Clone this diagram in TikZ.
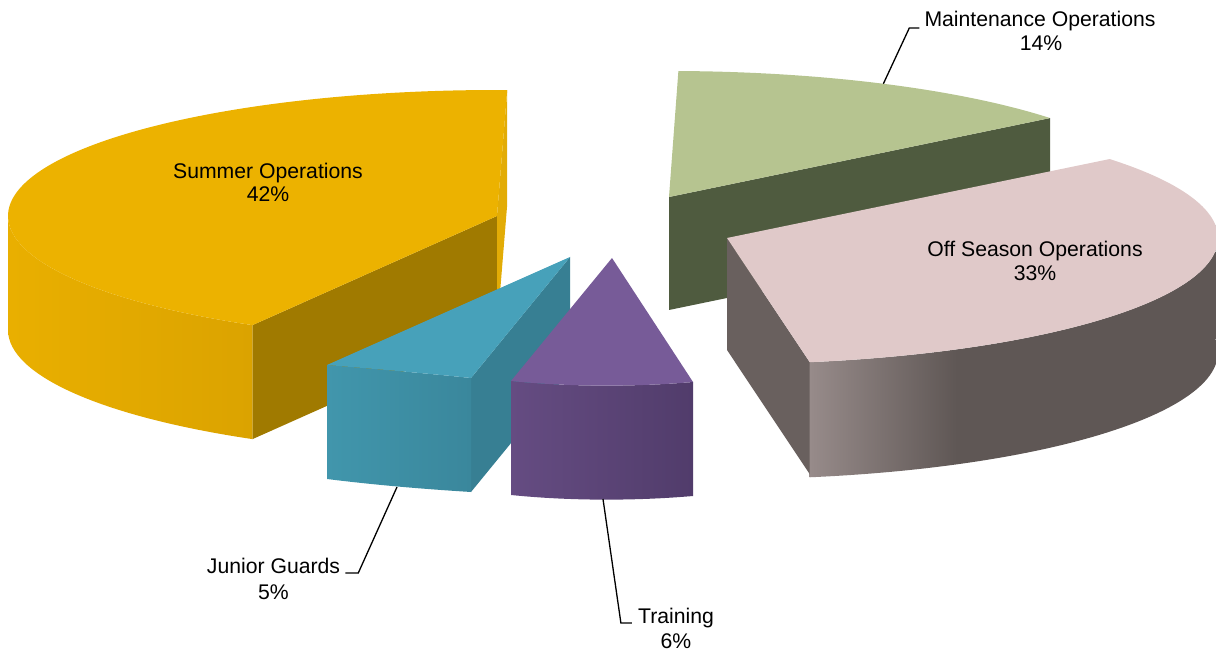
\documentclass[tikz,border=0pt]{standalone}
\usepackage{fontspec}
\setmainfont{Liberation Sans}
\usetikzlibrary{calc}

% slice colours
\definecolor{goldtop}{HTML}{ECB200}
\definecolor{golddark}{HTML}{A07A00}
\definecolor{goldsliver}{HTML}{E2AC06}
\definecolor{goldsideL}{HTML}{E9AF00}
\definecolor{goldsideR}{HTML}{DBA300}
\definecolor{greentop}{HTML}{B6C490}
\definecolor{greendark}{HTML}{4F5B3F}
\definecolor{pinktop}{HTML}{E0C9C9}
\definecolor{pinkcut}{HTML}{69605E}
\definecolor{pinksideL}{HTML}{978B8A}
\definecolor{pinksideD}{HTML}{5F5755}
\definecolor{bluetop}{HTML}{47A1BA}
\definecolor{bluesideL}{HTML}{4196AC}
\definecolor{bluesideR}{HTML}{3A879C}
\definecolor{blueright}{HTML}{377F93}
\definecolor{purpletop}{HTML}{775B98}
\definecolor{purplesideL}{HTML}{654C82}
\definecolor{purplesideR}{HTML}{513C6B}

% outer wall shadings (left edge of the path at 25bp, right edge at 75bp)
\pgfdeclarehorizontalshading{goldside}{100bp}{color(0bp)=(goldsideL); color(25bp)=(goldsideL); color(75bp)=(goldsideR); color(100bp)=(goldsideR)}
\pgfdeclarehorizontalshading{pinkside}{100bp}{color(0bp)=(pinksideL); color(25bp)=(pinksideL); color(42bp)=(pinksideD); color(100bp)=(pinksideD)}
\pgfdeclarehorizontalshading{blueside}{100bp}{color(0bp)=(bluesideL); color(25bp)=(bluesideL); color(75bp)=(bluesideR); color(100bp)=(bluesideR)}
\pgfdeclarehorizontalshading{purpleside}{100bp}{color(0bp)=(purplesideL); color(25bp)=(purplesideL); color(75bp)=(purplesideR); color(100bp)=(purplesideR)}

\begin{document}
\begin{tikzpicture}[x=1pt,y=1pt,yscale=-1,
  lab/.style={font=\fontsize{21.2}{24}\selectfont, inner sep=0pt, anchor=base, text=black},
  leader/.style={draw=black, line width=1.3pt}]
\useasboundingbox (0,0) rectangle (1216,652);
\clip (0,0) rectangle (1216,652);

% ---------- Summer Operations (42%) ----------
\coordinate (gc) at (497,216);
\coordinate (gback) at ($(gc)+(-88.8:489 and 126)$);
\coordinate (gfront) at ($(gc)+(120:489 and 126)$);
\shade[shading=goldside] (gfront) arc[start angle=120, end angle=180, x radius=489, y radius=126]
  -- ++(0,114) arc[start angle=180, end angle=120, x radius=489, y radius=126] -- cycle;
\fill[golddark] (gfront) -- (gc) -- ++(0,114) -- ($(gfront)+(0,114)$) -- cycle;
\fill[goldsliver] (gc) -- (gback) -- ++(0,114) -- ($(gc)+(0,114)$) -- cycle;
\fill[goldtop] (gc) -- (gback) arc[start angle=-88.8, end angle=-240, x radius=489, y radius=126] -- cycle;

% ---------- Maintenance Operations (14%) ----------
\coordinate (mc) at (669,197);
\coordinate (mright) at ($(mc)+(-38.8:489 and 126)$);
\coordinate (mback) at ($(mc)+(-88.9:489 and 126)$);
\fill[greendark] (mc) -- (mright) -- ++(0,113) -- ($(mc)+(0,113)$) -- cycle;
\fill[greentop] (mc) -- (mback) arc[start angle=-88.9, end angle=-38.8, x radius=489, y radius=126] -- cycle;
\coordinate (mtip) at ($(mc)+(-64:489 and 126)$);

% ---------- Off Season Operations (33%) ----------
\coordinate (oc) at (727,238);
\coordinate (oback) at ($(oc)+(-38.8:491 and 126)$);
\coordinate (ofront) at ($(oc)+(80.3:491 and 126)$);
\shade[shading=pinkside] (ofront) arc[start angle=80.3, end angle=-6, x radius=491, y radius=126]
  -- ++(0,114) arc[start angle=-6, end angle=80.3, x radius=491, y radius=127] -- cycle;
\fill[pinkcut] (oc) -- (ofront) -- ++(0,112) -- ($(oc)+(0,112)$) -- cycle;
\fill[pinktop] (oc) -- (oback) arc[start angle=-38.8, end angle=80.3, x radius=491, y radius=126] -- cycle;

% ---------- Junior Guards (5%) ----------
\coordinate (ja) at (570,257);
\coordinate (jfl) at (327,365);
\coordinate (jfr) at (471,378);
\coordinate (jbl) at (327,479);
\coordinate (jbr) at (471,492);
\coordinate (jab) at (570,371);
\fill[blueright] (jfr) -- (ja) -- (jab) -- (jbr) -- cycle;
\shade[shading=blueside] (jfl) .. controls (375,369) and (423,373) .. (jfr) -- (jbr)
  .. controls (423,489) and (375,485) .. (jbl) -- cycle;
\fill[bluetop] (ja) -- (jfl) .. controls (375,369) and (423,373) .. (jfr) -- cycle;
\coordinate (jtip) at (397,487);

% ---------- Training (6%) ----------
\coordinate (ta) at (612,258);
\coordinate (tl) at (511,381);
\coordinate (tr) at (693,382);
\coordinate (tbl) at (511,495);
\coordinate (tbr) at (693,496);
\shade[shading=purpleside] (tl) .. controls (570,387) and (635,387) .. (tr) -- (tbr)
  .. controls (635,501) and (570,501) .. (tbl) -- cycle;
\fill[purpletop] (ta) -- (tl) .. controls (570,387) and (635,387) .. (tr) -- cycle;
\coordinate (ttip) at (603,499);

% ---------- labels ----------
\node[lab] (sname) at (268,179) {Summer Operations};
\node[lab] (spct) at (268,202) {42\%};
\node[lab] (oname) at (1035,257) {Off Season Operations};
\node[lab] (opct) at (1035,281) {33\%};
\node[lab] (mname) at (1040,27) {Maintenance Operations};
\node[lab] (mpct) at (1041,51) {14\%};
\node[lab] (jname) at (273.5,573) {Junior Guards};
\node[lab] (jpct) at (273.5,599) {5\%};
\node[lab] (tname) at (676,623) {Training};
\node[lab] (tpct) at (676,648) {6\%};

% ---------- leader lines ----------
\draw[leader] (mtip) -- ([xshift=-15pt,yshift=1pt]mname.base west) -- ([xshift=-5pt,yshift=1pt]mname.base west);
\draw[leader] (jtip) -- ([xshift=18pt]jname.base east) -- ([xshift=5pt]jname.base east);
\draw[leader] (ttip) -- ([xshift=-17pt]tname.base west) -- ([xshift=-6pt]tname.base west);
\end{tikzpicture}
\end{document}
